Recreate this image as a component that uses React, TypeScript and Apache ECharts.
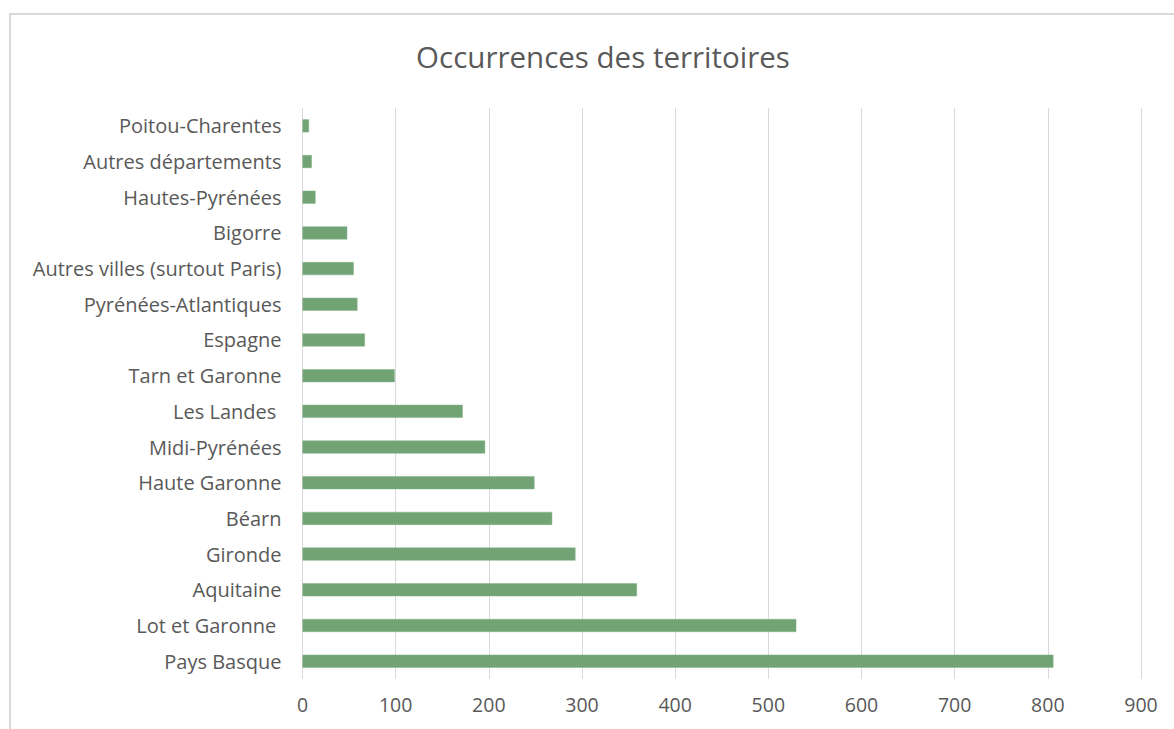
import React, { useEffect, useRef } from "react";
import * as echarts from "echarts";

const categories = [
  "Pays Basque",
  "Lot et Garonne ",
  "Aquitaine",
  "Gironde",
  "Béarn",
  "Haute Garonne",
  "Midi-Pyrénées",
  "Les Landes ",
  "Tarn et Garonne",
  "Espagne",
  "Pyrénées-Atlantiques",
  "Autres villes (surtout Paris)",
  "Bigorre",
  "Hautes-Pyrénées",
  "Autres départements",
  "Poitou-Charentes",
];
const values = [806, 530, 359, 293, 268, 249, 196, 172, 99, 67, 59, 55, 48, 14, 10, 7];
const xTicks = [0, 100, 200, 300, 400, 500, 600, 700, 800, 900];
const title = "Occurrences des territoires";

export default function App() {
  const ref = useRef<HTMLDivElement>(null);
  useEffect(() => {
    if (!ref.current) return;
    const chart = echarts.init(ref.current, null, { renderer: "svg" });
    const font = "'Open Sans', sans-serif";
    chart.setOption({
      animation: false,
      backgroundColor: "#ffffff",
      textStyle: { fontFamily: font },
      title: {
        text: title,
        left: 598,
        textAlign: "center",
        top: 36,
        textStyle: { fontFamily: font, fontSize: 29.5, fontWeight: "normal", color: "#595959" },
      },
      graphic: [
        {
          type: "rect",
          shape: { x: 10, y: 14, width: 1300, height: 900 },
          style: { fill: "none", stroke: "#d9d9d9", lineWidth: 2 },
          silent: true,
        },
      ],
      grid: { left: 302.5, right: 33, top: 108, bottom: 50, containLabel: false },
      xAxis: {
        type: "value",
        min: xTicks[0],
        max: xTicks[xTicks.length - 1],
        interval: 100,
        axisLine: { show: false },
        axisTick: { show: false },
        splitLine: { show: true, lineStyle: { color: "#d9d9d9", width: 1 } },
        axisLabel: { color: "#595959", fontSize: 19.5, fontFamily: font, margin: 15 },
      },
      yAxis: {
        type: "category",
        data: categories,
        axisLine: { show: false },
        axisTick: { show: false },
        axisLabel: { color: "#595959", fontSize: 20, fontFamily: font, margin: 21 },
      },
      series: [
        {
          type: "bar",
          data: values,
          barWidth: 13,
          itemStyle: { color: "#71a375", borderColor: "#86b38a", borderWidth: 0.5 },
        },
      ],
    });
    return () => chart.dispose();
  }, []);
  return (
    <div
      ref={ref}
      style={{ position: "absolute", left: 0, top: 0, width: 1174, height: 729 }}
    />
  );
}
